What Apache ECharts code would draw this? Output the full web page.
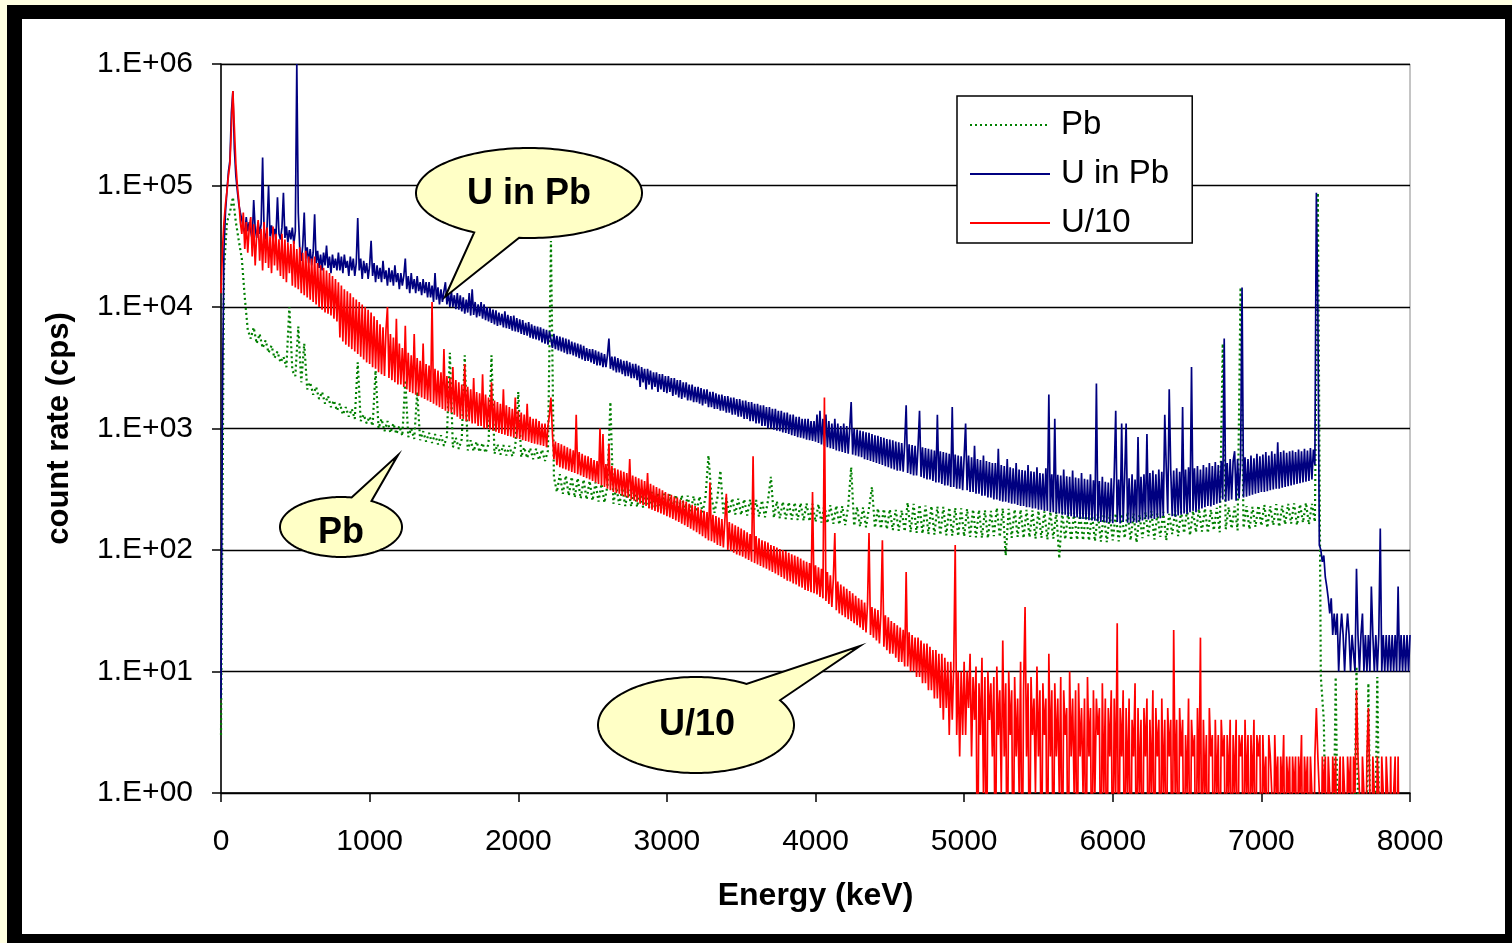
<!DOCTYPE html>
<html>
<head>
<meta charset="utf-8">
<script src="https://cdn.jsdelivr.net/npm/echarts@6/dist/echarts.min.js"></script>
<style>
  html, body { margin: 0; padding: 0; background: #FFFFE1; width: 1512px; height: 943px; overflow: hidden; }
  #frame { position: absolute; left: 7px; top: 5px; width: 1505px; height: 938px; background: #000; }
  #inner { position: absolute; left: 22px; top: 19px; width: 1483px; height: 915px; background: #fff; }
  #chart { position: absolute; left: 0; top: 0; width: 1512px; height: 943px; }
</style>
</head>
<body>
<div id="frame"></div>
<div id="inner"></div>
<div id="chart"></div>
<script>
// Channel bin widths (keV) of the sampled spectra, starting at 0 keV
const pbChannelKeV = 20;
const uChannelKeV = 10;

// Series names
const seriesNames = ['Pb', 'U in Pb', 'U/10'];

// Y-axis tick exponents (1.E+00 ... 1.E+06)
const yTickExponents = [0, 1, 2, 3, 4, 5, 6];

// Pb (count rate, cps) — one value per 20 keV bin
const pbCps = [
  3, 2e4, 5e4, 6e4, 8e4, 5e4, 3.5e4, 2.5e4, 1.2e4, 6.5e3,
  5.5e3, 6.8e3, 5e3, 6e3, 4.6e3, 5.3e3, 4.2e3, 4.8e3, 3.8e3, 4.3e3,
  3.5e3, 3.9e3, 3.2e3, 1e4, 3e3, 2.7e3, 6.9e3, 2.4e3, 5e3, 2.1e3,
  2.4e3, 1.9e3, 2.2e3, 1.75e3, 2e3, 1.6e3, 1.85e3, 1.5e3, 1.7e3, 1.4e3,
  1.6e3, 1.3e3, 1.5e3, 1.25e3, 1.45e3, 1.2e3, 3.5e3, 1.15e3, 1.3e3, 1.1e3,
  1.25e3, 1.05e3, 3e3, 1e3, 1.2e3, 950, 1.15e3, 920, 1.1e3, 900,
  1.05e3, 870, 2.5e3, 850, 1e3, 820, 2e3, 800, 950, 780,
  920, 760, 900, 740, 880, 720, 860, 4.2e3, 700, 840,
  680, 820, 4e3, 660, 800, 650, 780, 640, 760, 630,
  750, 4e3, 620, 740, 610, 730, 600, 720, 590, 710,
  2e3, 580, 700, 570, 690, 560, 680, 550, 670, 540,
  660, 3.5e4, 400, 300, 420, 290, 410, 280, 400, 270,
  390, 265, 380, 260, 370, 255, 360, 250, 350, 245,
  340, 1.65e3, 240, 330, 235, 325, 230, 320, 228, 315,
  226, 310, 224, 305, 222, 300, 220, 295, 218, 290,
  216, 288, 214, 285, 212, 282, 210, 280, 208, 278,
  206, 276, 204, 274, 600, 272, 202, 270, 450, 200,
  268, 198, 266, 196, 264, 194, 262, 192, 260, 190,
  258, 188, 256, 186, 254, 400, 184, 252, 182, 250,
  180, 248, 178, 246, 176, 244, 174, 242, 172, 240,
  170, 238, 168, 236, 166, 234, 164, 232, 162, 230,
  160, 228, 480, 158, 226, 156, 224, 154, 222, 330,
  152, 220, 150, 218, 148, 216, 146, 214, 144, 212,
  142, 245, 140, 240, 138, 236, 136, 232, 135, 230,
  134, 228, 133, 226, 132, 224, 131, 222, 130, 220,
  129, 218, 128, 216, 127, 214, 126, 212, 125, 210,
  130, 222, 128, 220, 90, 218, 126, 216, 128, 215,
  125, 214, 127, 212, 124, 210, 126, 208, 122, 207,
  124, 206, 85, 205, 122, 204, 120, 203, 121, 202,
  120, 201, 119, 200, 118, 199, 117, 198, 116, 197,
  120, 200, 118, 198, 125, 205, 120, 200, 115, 195,
  125, 205, 130, 210, 122, 200, 128, 206, 120, 198,
  135, 212, 130, 208, 138, 215, 132, 210, 140, 218,
  142, 220, 138, 215, 145, 222, 140, 5e3, 148, 225,
  150, 228, 145, 1.45e4, 152, 230, 148, 226, 155, 232,
  158, 235, 152, 230, 160, 238, 155, 232, 162, 240,
  165, 242, 160, 238, 168, 245, 162, 240, 170, 8.7e4,
  9, 4, 0.1, 0.1, 0.1, 9, 0.1, 0.1, 0.1, 0.1,
  0.1, 0.1, 11, 0.1, 0.1, 0.1, 8, 0.1, 0.1, 9,
  0.1, 0.1, 0.1, 0.1, 0.1, 0.1, 0.1, 0.1, 0.1, 0.1,
  0.1
];

// U in Pb (count rate, cps) — one value per 10 keV bin
const uInPbCps = [
  6, 2e3, 3e4, 6e4, 9e4, 1.3e5, 1.6e5, 4e5, 6e5, 2e5, 1.2e5, 9e4, 7e4, 6e4, 5.2e4, 4.5e4, 4e4, 5.5e4, 4.2e4, 5e4,
  4.2e4, 3.6e4, 7.6e4, 4.4e4, 3.7e4, 5e4, 4e4, 4.8e4, 1.7e5, 4.1e4, 3.6e4, 4.6e4, 1e5, 3.8e4, 4.7e4, 3.5e4, 4.4e4, 3.9e4, 8e4, 4e4,
  3.6e4, 4.5e4, 8.7e4, 3.7e4, 4.6e4, 3.4e4, 4.3e4, 3.6e4, 4.5e4, 3.3e4, 4.2e4, 1e6, 6e4, 3e4, 2.4e4, 3.2e4, 6e4, 2.5e4, 3.1e4, 2.3e4,
  3e4, 2.2e4, 2.8e4, 5.8e4, 2.3e4, 2.9e4, 2.1e4, 2.7e4, 2e4, 2.8e4, 2.2e4, 3.2e4, 2.1e4, 2.6e4, 1.9e4, 2.7e4, 2.1e4, 2.5e4, 2e4, 2.8e4,
  2e4, 2.6e4, 1.9e4, 2.7e4, 2.1e4, 2.4e4, 1.8e4, 2.6e4, 2e4, 2.5e4, 1.8e4, 2.3e4, 5.4e4, 2e4, 2.5e4, 1.7e4, 2.4e4, 1.9e4, 2.3e4, 1.7e4,
  2.2e4, 3.5e4, 1.8e4, 2.3e4, 1.6e4, 2.2e4, 1.7e4, 2.1e4, 1.6e4, 2.4e4, 1.7e4, 2e4, 1.5e4, 2.1e4, 1.6e4, 2e4, 1.5e4, 2.2e4, 1.6e4, 1.9e4,
  1.4e4, 1.9e4, 1.5e4, 1.8e4, 2.5e4, 1.4e4, 1.8e4, 1.3e4, 1.9e4, 1.4e4, 1.7e4, 1.3e4, 1.8e4, 1.35e4, 1.6e4, 1.25e4, 1.7e4, 1.3e4, 1.6e4, 1.2e4,
  1.6e4, 1.2e4, 1.5e4, 1.1e4, 1.9e4, 1.15e4, 1.45e4, 1.05e4, 1.4e4, 1.1e4, 1.35e4, 1.6e4, 1.05e4, 1.3e4, 1e4, 1.35e4, 1e4, 1.25e4, 9.6e3, 1.3e4,
  9.5e3, 1.25e4, 9.2e3, 1.2e4, 8.8e3, 1.15e4, 9e3, 1.3e4, 8.5e3, 1.4e4, 8.6e3, 1.1e4, 8.2e3, 1.05e4, 8.4e3, 1.1e4, 8e3, 1.05e4, 7.8e3, 1e4,
  7.6e3, 9.8e3, 7.4e3, 9.5e3, 7.2e3, 9.4e3, 7e3, 9e3, 7.1e3, 8.8e3, 6.8e3, 9.2e3, 6.7e3, 8.6e3, 6.6e3, 8.4e3, 6.4e3, 8.5e3, 6.3e3, 8.1e3,
  6.2e3, 7.9e3, 6e3, 7.8e3, 5.9e3, 7.4e3, 5.8e3, 7.5e3, 5.6e3, 7.2e3, 5.5e3, 7e3, 5.4e3, 6.9e3, 5.3e3, 6.8e3, 5.1e3, 6.6e3, 5e3, 6.5e3,
  4.9e3, 6.3e3, 5.4e3, 4.6e3, 6e3, 4.5e3, 5.8e3, 4.4e3, 5.7e3, 4.3e3, 5.6e3, 4.2e3, 5.5e3, 4.1e3, 5.4e3, 4.1e3, 5.2e3, 4e3, 5.1e3, 3.9e3,
  5e3, 3.8e3, 4.9e3, 3.7e3, 4.8e3, 3.6e3, 4.6e3, 3.6e3, 4.5e3, 3.5e3, 4.5e3, 3.4e3, 4.4e3, 3.3e3, 4.3e3, 3.3e3, 4.2e3, 3.2e3, 4.1e3, 3.2e3,
  4e3, 5.5e3, 3.1e3, 3.9e3, 3e3, 3.9e3, 2.9e3, 3.8e3, 2.9e3, 3.7e3, 2.8e3, 3.6e3, 2.7e3, 3.6e3, 2.7e3, 3.5e3, 2.6e3, 3.4e3, 2.6e3, 3.4e3,
  2.5e3, 3.3e3, 2.2e3, 3.2e3, 2.4e3, 3.1e3, 2.1e3, 3.1e3, 2.3e3, 3e3, 2.1e3, 2.9e3, 2.2e3, 2.9e3, 2e3, 2.8e3, 2.1e3, 2.8e3, 2e3, 2.7e3,
  1.95e3, 2.7e3, 2e3, 2.6e3, 1.85e3, 2.6e3, 1.9e3, 2.5e3, 1.8e3, 2.5e3, 1.75e3, 2.4e3, 1.8e3, 2.4e3, 1.7e3, 2.3e3, 1.7e3, 2.3e3, 1.65e3, 2.2e3,
  1.65e3, 2.2e3, 1.6e3, 2.15e3, 1.55e3, 2.1e3, 1.6e3, 2.1e3, 1.5e3, 2e3, 1.5e3, 2e3, 1.45e3, 1.95e3, 1.45e3, 1.9e3, 1.4e3, 1.9e3, 1.4e3, 1.85e3,
  1.35e3, 1.85e3, 1.35e3, 1.8e3, 1.3e3, 1.8e3, 1.3e3, 1.75e3, 1.25e3, 1.75e3, 1.25e3, 1.7e3, 1.2e3, 1.7e3, 1.2e3, 1.65e3, 1.15e3, 1.65e3, 1.15e3, 1.6e3,
  1.1e3, 1.6e3, 1.1e3, 1.55e3, 1.05e3, 1.55e3, 1.05e3, 1.5e3, 1e3, 1.5e3, 1e3, 1.45e3, 980, 1.45e3, 960, 1.4e3, 950, 1.4e3, 930, 1.35e3,
  920, 1.35e3, 900, 1.3e3, 880, 1.3e3, 870, 1.25e3, 850, 1.25e3, 840, 1.2e3, 830, 1.2e3, 810, 1.2e3, 800, 1.15e3, 790, 1.15e3,
  780, 1.3e3, 760, 1.4e3, 740, 1.2e3, 720, 1.3e3, 700, 1.15e3, 690, 1.1e3, 680, 1.2e3, 660, 1.1e3, 650, 1.05e3, 640, 1.1e3,
  630, 1.05e3, 620, 1e3, 1.65e3, 610, 1e3, 600, 980, 590, 960, 580, 950, 560, 930, 550, 920, 540, 900, 530,
  880, 520, 870, 510, 850, 500, 840, 490, 820, 480, 810, 470, 800, 460, 780, 450, 770, 450, 760, 440,
  750, 1.55e3, 430, 740, 420, 730, 410, 720, 410, 710, 1.4e3, 400, 700, 390, 690, 380, 680, 380, 670, 370,
  660, 360, 1.3e3, 360, 650, 350, 640, 340, 630, 340, 620, 330, 1.5e3, 330, 610, 320, 600, 320, 590, 310,
  580, 1.1e3, 310, 600, 300, 580, 300, 720, 290, 560, 290, 550, 280, 600, 280, 540, 270, 530, 270, 520,
  260, 520, 260, 680, 255, 500, 250, 490, 250, 560, 245, 480, 240, 470, 240, 520, 235, 460, 230, 455,
  230, 450, 225, 500, 225, 445, 220, 440, 220, 480, 215, 430, 215, 425, 210, 470, 210, 1.9e3, 205, 420,
  205, 1.2e3, 200, 415, 200, 410, 195, 460, 195, 405, 190, 400, 190, 450, 185, 395, 185, 390, 180, 430,
  180, 385, 178, 380, 176, 420, 175, 375, 174, 2.35e3, 172, 370, 170, 400, 170, 365, 168, 360, 168, 390,
  166, 420, 1.4e3, 170, 380, 165, 1.1e3, 170, 400, 1.1e3, 168, 390, 166, 420, 170, 380, 168, 850, 172, 400,
  175, 420, 180, 900, 178, 430, 182, 450, 180, 420, 185, 460, 183, 440, 190, 1.3e3, 480, 200, 2.1e3, 460,
  190, 450, 188, 470, 192, 440, 195, 1.5e3, 200, 460, 198, 480, 205, 3.2e3, 210, 470, 205, 490, 215, 460,
  220, 500, 225, 480, 230, 520, 228, 490, 235, 530, 240, 500, 245, 540, 260, 5.5e3, 250, 520, 255, 560,
  260, 540, 650, 255, 560, 265, 520, 1.45e4, 270, 580, 275, 560, 280, 600, 285, 570, 290, 620, 295, 590,
  300, 610, 300, 640, 305, 600, 310, 650, 315, 620, 320, 770, 320, 640, 325, 660, 330, 630, 335, 650,
  340, 660, 345, 640, 350, 670, 355, 650, 360, 680, 365, 660, 370, 690, 380, 670, 500, 8.7e4, 1e4, 110,
  100, 80, 90, 60, 50, 40, 30, 40, 20, 30, 20, 30, 10, 20, 30, 20, 10, 20, 30, 20,
  10, 20, 20, 10, 70, 20, 10, 20, 30, 10, 20, 10, 20, 10, 50, 20, 10, 20, 10, 20,
  150, 10, 20, 10, 20, 10, 20, 10, 20, 10, 20, 10, 50, 10, 20, 10, 20, 10, 20, 10,
  20
];

// U/10 (count rate, cps) — one value per 10 keV bin
const uDiv10Cps = [
  1.3e4, 3e4, 5e4, 7e4, 9e4, 1.2e5, 1.5e5, 3e5, 6e5, 3e5, 1.5e5, 1e5, 7.5e4, 5e4, 4e4, 6e4, 3e4, 5e4, 2.8e4, 4.5e4,
  5.5e4, 2.6e4, 4.8e4, 2.2e4, 3.9e4, 5.2e4, 2.4e4, 4.4e4, 2e4, 5e4, 2.3e4, 4.5e4, 2.1e4, 3.8e4, 1.9e4, 4.6e4, 2.2e4, 4e4, 2e4, 3.6e4,
  1.8e4, 4e4, 1.7e4, 3.6e4, 1.6e4, 3.4e4, 1.9e4, 3.3e4, 1.5e4, 3.5e4, 1.45e4, 3e4, 1.4e4, 3.1e4, 1.3e4, 2.8e4, 1.25e4, 2.9e4, 1.2e4, 2.6e4,
  1.15e4, 2.5e4, 1.1e4, 2.6e4, 1.05e4, 2.3e4, 1e4, 2.2e4, 9.5e3, 2.1e4, 9e3, 2e4, 8.8e3, 1.9e4, 8.5e3, 1.8e4, 8e3, 1.7e4, 7.6e3, 1.6e4,
  5.6e3, 1.5e4, 5.2e3, 1.4e4, 4.9e3, 1.35e4, 4.7e3, 1.3e4, 4.5e3, 1.2e4, 4.3e3, 1.15e4, 4.1e3, 1.1e4, 3.9e3, 1.05e4, 3.7e3, 1e4, 3.5e3, 9.5e3,
  3.4e3, 9e3, 3.2e3, 8.4e3, 3.1e3, 7.8e3, 2.9e3, 7.2e3, 2.8e3, 6.8e3, 2.7e3, 6.5e3, 1e4, 2.6e3, 6e3, 2.5e3, 5.6e3, 2.4e3, 8e3, 2.3e3,
  5e3, 2.3e3, 4.6e3, 2.2e3, 7e3, 2.1e3, 4.2e3, 2e3, 4e3, 1.95e3, 6e3, 1.9e3, 3.8e3, 1.85e3, 3.6e3, 1.8e3, 5e3, 1.75e3, 3.4e3, 1.7e3,
  3.3e3, 1.65e3, 1.1e4, 1.6e3, 3.1e3, 1.55e3, 3e3, 1.5e3, 2.9e3, 1.45e3, 4.5e3, 1.4e3, 2.7e3, 1.38e3, 2.6e3, 1.35e3, 3.2e3, 1.3e3, 2.5e3, 1.25e3,
  2.4e3, 1.2e3, 2.3e3, 1.2e3, 3.4e3, 1.15e3, 2.2e3, 1.15e3, 2.1e3, 1.1e3, 2.6e3, 1.1e3, 2e3, 1.05e3, 1.95e3, 1.05e3, 2.8e3, 1e3, 1.9e3, 1e3,
  1.8e3, 980, 2.4e3, 960, 1.7e3, 940, 1.65e3, 920, 1.6e3, 900, 2.1e3, 890, 1.55e3, 870, 1.5e3, 860, 1.45e3, 840, 1.8e3, 830,
  1.4e3, 820, 1.35e3, 800, 1.3e3, 790, 1.6e3, 780, 1.25e3, 760, 1.2e3, 750, 1.2e3, 740, 1.15e3, 730, 1.1e3, 720, 1.1e3, 700,
  1.05e3, 1.3e3, 1.8e3, 900, 560, 780, 500, 760, 480, 740, 470, 720, 460, 700, 450, 680, 440, 660, 430, 1.3e3,
  420, 640, 410, 620, 400, 600, 390, 590, 380, 570, 370, 550, 360, 540, 350, 1e3, 340, 900, 330, 510,
  320, 750, 310, 490, 300, 470, 295, 460, 290, 450, 280, 440, 275, 430, 270, 560, 260, 410, 255, 400,
  250, 390, 240, 380, 235, 370, 230, 430, 220, 350, 215, 340, 210, 330, 205, 320, 200, 310, 195, 300,
  190, 290, 185, 285, 180, 275, 175, 270, 170, 260, 165, 255, 160, 250, 155, 240, 150, 235, 145, 230,
  140, 225, 135, 215, 130, 210, 125, 205, 120, 360, 118, 195, 115, 190, 110, 185, 108, 180, 105, 175,
  290, 100, 170, 98, 165, 95, 160, 92, 155, 90, 150, 88, 145, 85, 140, 83, 135, 80, 590, 78,
  130, 76, 125, 74, 120, 72, 118, 70, 115, 68, 110, 66, 108, 64, 105, 62, 102, 60, 100, 58,
  98, 56, 95, 55, 92, 53, 90, 52, 88, 50, 85, 49, 82, 47, 80, 46, 78, 45, 300, 44,
  75, 43, 72, 41, 70, 40, 1.8e3, 38, 66, 36, 62, 34, 58, 138, 32, 55, 30, 52, 29, 50,
  28, 48, 27, 46, 26, 44, 25, 42, 24, 40, 23, 39, 22, 37, 21, 36, 138, 20, 34, 19,
  33, 18, 32, 17, 30, 120, 16, 29, 15, 28, 14, 26, 14, 25, 13, 24, 12, 23, 12, 22,
  11, 66, 11, 21, 10, 20, 10, 19, 9, 19, 9, 18, 8, 17, 8, 17, 7, 16, 7, 15,
  6, 15, 6, 14, 5, 14, 4, 13, 5, 12, 3, 12, 4, 11, 110, 3, 10, 2, 10, 3,
  12, 3, 10, 5, 14, 2, 9, 4, 11, 0.1, 8, 3, 13, 1, 9, 0.1, 10, 4, 8, 2,
  9, 0.1, 11, 3, 7, 1, 18, 2, 8, 0.1, 10, 3, 7, 0.1, 9, 2, 6, 1, 12, 0.1,
  7, 34, 2, 8, 0.1, 9, 3, 6, 1, 11, 2, 7, 0.1, 8, 3, 6, 0.1, 14, 2, 7,
  0.1, 8, 2, 6, 1, 9, 0.1, 7, 3, 5, 0.1, 10, 2, 6, 1, 7, 0.1, 8, 2, 5,
  1, 6, 0.1, 9, 2, 5, 0.1, 7, 1, 6, 3, 5, 0.1, 8, 1, 6, 0.1, 5, 2, 7,
  0.1, 6, 1, 25, 0.1, 5, 2, 7, 0.1, 5, 1, 6, 0.1, 4, 2, 8, 0.1, 5, 1, 4,
  0.1, 5, 2, 6, 0.1, 4, 1, 7, 0.1, 5, 2, 4, 0.1, 6, 1, 4, 0.1, 5, 2, 4,
  0.1, 22, 1, 4, 0.1, 5, 2, 4, 0.1, 3, 1, 6, 0.1, 4, 2, 3, 0.1, 5, 1, 19,
  0.1, 4, 1, 3, 0.1, 5, 2, 3, 0.1, 4, 1, 3, 0.1, 4, 2, 3, 0.1, 3, 1, 4,
  0.1, 3, 1, 4, 0.1, 3, 2, 3, 0.1, 4, 1, 3, 0.1, 3, 1, 4, 0.1, 3, 2, 3,
  0.1, 3, 1, 2, 0.1, 3, 2, 1, 0.1, 3, 1, 2, 0.1, 2, 1, 3, 0.1, 2, 1, 2,
  0.1, 2, 1, 2, 0.1, 2, 1, 3, 0.1, 2, 1, 2, 0.1, 2, 1, 0.1, 2, 5, 2, 1,
  0.1, 2, 1, 2, 0.1, 2, 1, 0.1, 2, 1, 2, 0.1, 1, 2, 0.1, 2, 1, 0.1, 2, 1,
  2, 0.1, 2, 1, 7, 2, 1, 0.1, 2, 1, 0.1, 2, 5, 1, 0.1, 2, 1, 0.1, 2, 1,
  0.1, 2, 1, 0.1, 2, 1, 0.1, 2, 0.1, 1, 2, 0.1, 2, 0.1
];

// Callout labels
const calloutTexts = ['U in Pb', 'Pb', 'U/10'];

const FONT = '"Liberation Sans", Arial, Helvetica, sans-serif';

function toPairs(values, binKeV) {
  return values.map((v, i) => [i * binKeV, v]);
}

// Callout balloon outline (decoration): ellipse with a pointer
function balloon(cx, cy, rx, ry, a1, a2, tx, ty) {
  const pts = [];
  const end = a2 + 360;
  for (let a = a1; a <= end + 0.001; a += 2) {
    const t = Math.min(a, end) * Math.PI / 180;
    pts.push([cx + rx * Math.cos(t), cy + ry * Math.sin(t)]);
  }
  pts.push([tx, ty]);
  return {
    type: 'polygon', z: 100,
    shape: { points: pts },
    style: { fill: '#FFFFC6', stroke: '#000', lineWidth: 2 }
  };
}
function label(x, y, text) {
  return {
    type: 'text', z: 101, x: x, y: y,
    style: {
      text: text, fill: '#000',
      font: 'bold 36px ' + FONT,
      textAlign: 'center', textVerticalAlign: 'middle',
      align: 'center', verticalAlign: 'middle'
    }
  };
}

const chart = echarts.init(document.getElementById('chart'), null, { renderer: 'canvas' });

const option = {
  backgroundColor: 'transparent',
  animation: false,
  textStyle: { fontFamily: FONT, color: '#000' },
  grid: {
    left: 221, right: 102, top: 64, bottom: 150,
    containLabel: false, outerBoundsMode: 'none',
    show: true, borderColor: '#8a8a8a', borderWidth: 1, backgroundColor: 'transparent'
  },
  legend: {
    orient: 'vertical',
    left: 957, top: 96,
    data: seriesNames,
    backgroundColor: '#fff',
    borderColor: '#000', borderWidth: 1.5, borderRadius: 0,
    padding: [11, 23, 2, 12],
    itemWidth: 80, itemHeight: 14, itemGap: 13,
    itemStyle: { opacity: 0 },
    textStyle: { fontSize: 33, fontFamily: FONT, color: '#000', lineHeight: 36, padding: [0, 0, 0, 6] },
    selectedMode: false
  },
  xAxis: {
    type: 'value', min: 0, max: 8000, interval: 1000,
    axisLine: { show: true, onZero: false, lineStyle: { color: '#000', width: 1.5 } },
    axisTick: { show: true, length: 9, lineStyle: { color: '#000', width: 1.5 } },
    splitLine: { show: false },
    axisLabel: { fontSize: 30, color: '#000', fontFamily: FONT, margin: 34,
      formatter: function (v) { return String(v); } },
    name: 'Energy (keV)', nameLocation: 'middle', nameGap: 87,
    nameTextStyle: { fontSize: 32, fontWeight: 'bold', color: '#000', fontFamily: FONT }
  },
  yAxis: {
    type: 'log', logBase: 10, min: 1, max: 1e6, splitNumber: 6,
    axisLine: { show: true, lineStyle: { color: '#000', width: 1.5 } },
    axisTick: { show: true, length: 9, lineStyle: { color: '#000', width: 1.5 } },
    splitLine: { show: true, lineStyle: { color: '#000', width: 1.3 } },
    minorTick: { show: false }, minorSplitLine: { show: false },
    axisLabel: {
      fontSize: 30, color: '#000', fontFamily: FONT, margin: 28,
      formatter: function (v) {
        const e = Math.round(Math.log10(v));
        if (yTickExponents.indexOf(e) < 0) return '';
        return '1.E+' + (e < 10 ? '0' : '') + e;
      }
    },
    name: 'count rate (cps)', nameLocation: 'middle', nameGap: 146, nameRotate: 90,
    nameTextStyle: { fontSize: 31, fontWeight: 'bold', color: '#000', fontFamily: FONT }
  },
  series: [
    {
      name: seriesNames[0], type: 'line', data: toPairs(pbCps, pbChannelKeV),
      symbol: 'none', showSymbol: false, z: 2, clip: true,
      color: '#008000',
      lineStyle: { color: '#008000', width: 2.2, type: [2, 3] }
    },
    {
      name: seriesNames[1], type: 'line', data: toPairs(uInPbCps, uChannelKeV),
      symbol: 'none', showSymbol: false, z: 3, clip: true,
      color: '#000080',
      lineStyle: { color: '#000080', width: 1.7 }
    },
    {
      name: seriesNames[2], type: 'line', data: toPairs(uDiv10Cps, uChannelKeV),
      symbol: 'none', showSymbol: false, z: 4, clip: true,
      color: '#FF0000',
      lineStyle: { color: '#FF0000', width: 1.7 }
    }
  ],
  graphic: [
    balloon(529, 193, 113, 45, 119, 96, 445, 297),
    label(529, 194, calloutTexts[0]),
    balloon(341, 527, 61, 30, 300, 280, 398, 455),
    label(341, 533, calloutTexts[1]),
    balloon(696, 725, 98, 48, 329, 301, 860, 646),
    label(697, 725, calloutTexts[2])
  ]
};

chart.setOption(option);
</script>
</body>
</html>
